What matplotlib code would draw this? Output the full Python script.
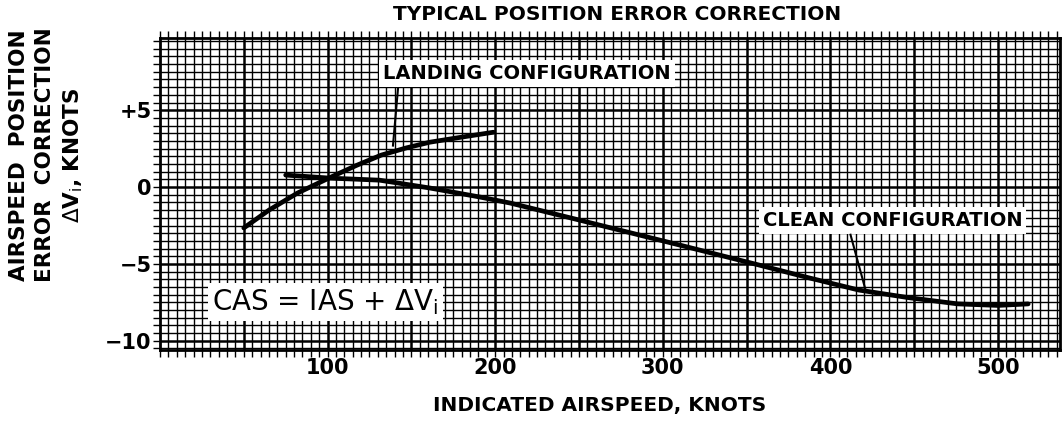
import matplotlib
matplotlib.use("Agg")
import matplotlib.pyplot as plt
import numpy as np

# Data
landing_x = [50, 65, 82, 102, 117, 132, 147, 161, 180, 199]
landing_y = [-2.66, -1.5, -0.39, 0.65, 1.4, 2.08, 2.55, 2.92, 3.25, 3.57]

clean_x = [75, 102, 131, 161, 191, 209, 250, 310, 357, 387, 417, 447, 476, 500, 518]
clean_y = [0.78, 0.58, 0.45, -0.06, -0.65, -1.04, -2.14, -3.77, -5.06, -5.9, -6.7, -7.2, -7.6, -7.7, -7.6]

x_ticks = [100, 200, 300, 400, 500]
x_tick_labels = ["100", "200", "300", "400", "500"]
y_ticks = [5, 0, -5, -10]
y_tick_labels = ["+5", "0", "\u22125", "\u221210"]

fig = plt.figure(figsize=(10.63, 4.36), dpi=100)
ax = fig.add_axes([160/1063, 1-350/436, 900/1063, 312/436])

xmin, xmax = 0, 537
ymin, ymax = -10.6, 9.7
ax.set_xlim(xmin, xmax)
ax.set_ylim(ymin, ymax)

# graph-paper grid
for xv in np.arange(5, xmax, 5):
    lw = 1.8 if xv % 50 == 0 else 1.0
    ax.axvline(xv, color="black", lw=lw, zorder=1)
for yv in np.arange(-10.5, ymax, 0.5):
    lw = 1.8 if abs(yv % 5) < 1e-9 else 1.0
    ax.axhline(yv, color="black", lw=lw, zorder=1)

for s in ax.spines.values():
    s.set_linewidth(2.0)

ax.set_xticks(x_ticks)
ax.set_xticklabels(x_tick_labels, fontsize=15, fontweight="bold")
ax.set_yticks(y_ticks)
ax.set_yticklabels(y_tick_labels, fontsize=15, fontweight="bold")
ax.set_xticks(np.arange(0, xmax, 5), minor=True)
ax.set_yticks(np.arange(-10.5, ymax, 0.5), minor=True)
ax.tick_params(which="both", direction="out", length=5, width=1.0,
               top=True, right=False, pad=1)

ax.plot(landing_x, landing_y, color="black", lw=3.4, zorder=3,
        solid_capstyle="round", solid_joinstyle="round")
ax.plot(clean_x, clean_y, color="black", lw=3.4, zorder=3,
        solid_capstyle="round", solid_joinstyle="round")

box = dict(facecolor="white", edgecolor="none", pad=3)
ax.text(219, 7.4, "LANDING CONFIGURATION", fontsize=14, fontweight="bold",
        ha="center", va="center", bbox=box, zorder=4)
ax.plot([142, 139], [6.4, 2.7], color="black", lw=1.5, zorder=4)

ax.text(437, -2.15, "CLEAN CONFIGURATION", fontsize=14, fontweight="bold",
        ha="center", va="center", bbox=box, zorder=4)
ax.plot([412, 421], [-3.1, -6.7], color="black", lw=1.5, zorder=4)

ax.text(31, -7.5, "CAS = IAS + $\\Delta$V$_{\\rm i}$", fontsize=20,
        ha="left", va="center", bbox=box, zorder=4)

fig.text(617/1063, 1-15/436, "TYPICAL POSITION ERROR CORRECTION",
         fontsize=14.5, fontweight="bold", ha="center", va="center")
fig.text(600/1063, 1-405/436, "INDICATED AIRSPEED, KNOTS",
         fontsize=14.5, fontweight="bold", ha="center", va="center")
fig.text(47/1063, 1-155/436, "AIRSPEED  POSITION\nERROR  CORRECTION\n$\\Delta$V$_{\\rm i}$, KNOTS",
         fontsize=15.5, fontweight="bold", ha="center", va="center",
         rotation=90, linespacing=1.35)

fig.savefig("out.png", dpi=100)
